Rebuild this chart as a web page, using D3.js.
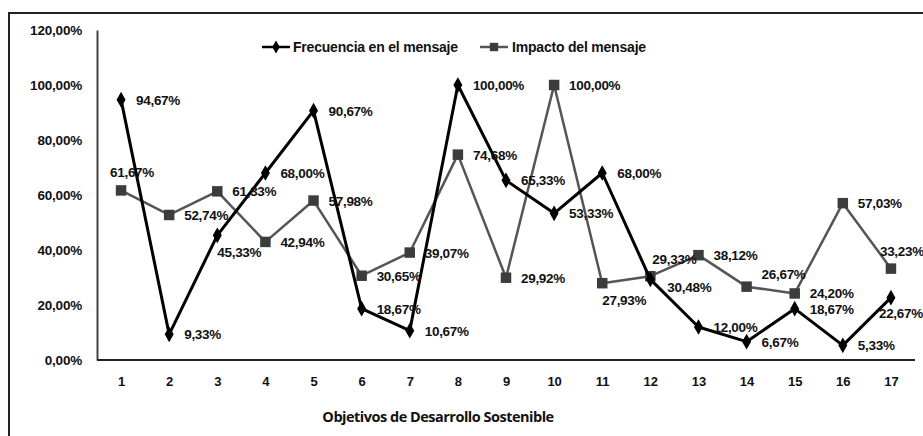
<!DOCTYPE html>
<html>
<head>
<meta charset="utf-8">
<script src="https://cdn.jsdelivr.net/npm/d3@7"></script>
<style>
  body { margin: 0; background: #fff; }
  text { font-family: "Liberation Sans", Arial, sans-serif; font-weight: bold; fill: #111; }
</style>
</head>
<body>
<div id="chart"></div>
<script>
// data
var objetivos = [1, 2, 3, 4, 5, 6, 7, 8, 9, 10, 11, 12, 13, 14, 15, 16, 17]
var frecuencia = [94.67, 9.33, 45.33, 68.00, 90.67, 18.67, 10.67, 100.00, 65.33, 53.33, 68.00, 29.33, 12.00, 6.67, 18.67, 5.33, 22.67]
var impacto = [61.67, 52.74, 61.33, 42.94, 57.98, 30.65, 39.07, 74.68, 29.92, 100.00, 27.93, 30.48, 38.12, 26.67, 24.20, 57.03, 33.23]
var yTicks = [0, 20, 40, 60, 80, 100, 120]
// label placement: r = right, a = above right, b = below, t = above, d = below right, e = below left
var frecPos = ["r","r","b","r","r","r","r","r","r","r","r","u","r","r","r","r","e"]
var impPos = ["t","r","r","r","r","r","r","r","r","r","b","d","r","a","r","r","t"]

var width = 923, height = 436
var margin = {top: 30, right: 8, bottom: 76, left: 97}

var svg = d3.select("#chart").append("svg")
  .attr("width", width)
  .attr("height", height)

// outer frame (runs off the right/bottom of the picture)
svg.append("rect")
  .attr("x", 9).attr("y", 13)
  .attr("width", width + 20).attr("height", height + 20)
  .attr("fill", "none")
  .attr("stroke", "#222")
  .attr("stroke-width", 2)

var x = d3.scalePoint()
  .domain(objetivos)
  .range([margin.left, width - margin.right])
  .padding(0.5)

var y = d3.scaleLinear()
  .domain([0, 120])
  .range([height - margin.bottom, margin.top])

var es = d3.formatLocale({decimal: ",", thousands: ".", grouping: [3], currency: ["", " €"]})
var pct = function(v) { return es.format(".2f")(v) + "%" }

// y axis
var yAxis = svg.append("g")
  .attr("transform", "translate(" + margin.left + ",0)")
  .call(d3.axisLeft(y).tickValues(yTicks).tickSize(0).tickPadding(15).tickFormat(pct))
yAxis.select(".domain").attr("stroke", "#444").attr("stroke-width", 2)
yAxis.selectAll("text").style("font-size", "13.5px").style("letter-spacing", "-0.2px").attr("fill", "#111")

// x axis
var xAxis = svg.append("g")
  .attr("transform", "translate(0," + y(0) + ")")
  .call(d3.axisBottom(x).tickSize(0).tickPadding(17))
xAxis.select(".domain").attr("stroke", "#222").attr("stroke-width", 2)
  .attr("d", "M" + margin.left + ",0H" + (width - margin.right))
xAxis.selectAll("text").style("font-size", "13px").attr("fill", "#111")

svg.append("text")
  .attr("x", 438).attr("y", 422)
  .attr("text-anchor", "middle")
  .style("font-family", "'Open Sans', sans-serif")
  .style("font-size", "14.5px")
  .style("letter-spacing", "-0.5px")
  .text("Objetivos de Desarrollo Sostenible")

// series
function drawSeries(values, color, lw, shape) {
  var line = d3.line()
    .x(function(d, i) { return x(objetivos[i]) })
    .y(function(d) { return y(d) })
  svg.append("path")
    .datum(values)
    .attr("fill", "none")
    .attr("stroke", color)
    .attr("stroke-width", lw)
    .attr("stroke-linejoin", "round")
    .attr("d", line)
  svg.selectAll(null)
    .data(values)
    .enter()
    .append("path")
    .attr("transform", function(d, i) { return "translate(" + x(objetivos[i]) + "," + y(d) + ")" })
    .attr("d", d3.symbol().type(shape).size(shape == d3.symbolSquare ? 110 : 70))
    .attr("fill", color == "#000" ? "#000" : "#3c3c3c")
}

drawSeries(impacto, "#555", 2.5, d3.symbolSquare)
drawSeries(frecuencia, "#000", 3, d3.symbolDiamond)

var dxOf = {r: 15, a: 15, b: 0, t: -11, d: 17, e: -12, u: 2}
var dyOf = {r: 5, a: -8, b: 22, t: -13, d: 16, e: 20, u: -15}

function drawLabels(values, pos) {
  svg.selectAll(null)
    .data(values)
    .enter()
    .append("text")
    .attr("x", function(d, i) { return x(objetivos[i]) + dxOf[pos[i]] })
    .attr("y", function(d, i) { return y(d) + dyOf[pos[i]] })
    .style("font-size", "13.5px")
    .style("letter-spacing", "-0.3px")
    .text(function(d) { return pct(d) })
}

drawLabels(impacto, impPos)
drawLabels(frecuencia, frecPos)

// legend
var legend = svg.append("g")
legend.append("line").attr("x1", 262).attr("x2", 290).attr("y1", 47).attr("y2", 47)
  .attr("stroke", "#000").attr("stroke-width", 2.5)
legend.append("path").attr("transform", "translate(276,47)")
  .attr("d", d3.symbol().type(d3.symbolDiamond).size(50)).attr("fill", "#000")
legend.append("text").attr("x", 293).attr("y", 52)
  .style("font-size", "14px").style("letter-spacing", "-0.2px")
  .text("Frecuencia en el mensaje")
legend.append("line").attr("x1", 480).attr("x2", 508).attr("y1", 47).attr("y2", 47)
  .attr("stroke", "#555").attr("stroke-width", 2.5)
legend.append("path").attr("transform", "translate(494,47)")
  .attr("d", d3.symbol().type(d3.symbolSquare).size(70)).attr("fill", "#3c3c3c")
legend.append("text").attr("x", 512).attr("y", 52)
  .style("font-size", "14px").style("letter-spacing", "-0.2px")
  .text("Impacto del mensaje")
</script>
</body>
</html>
